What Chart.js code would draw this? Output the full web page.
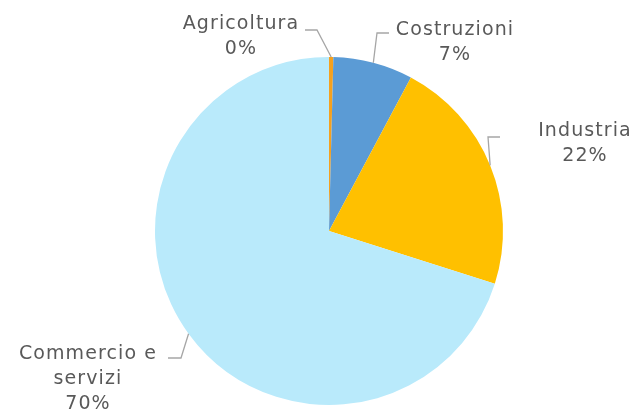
<!DOCTYPE html>
<html>
<head>
<meta charset="utf-8">
<script src="https://cdn.jsdelivr.net/npm/chart.js@4"></script>
<style>
  body { margin: 0; background: #fff; }
</style>
</head>
<body>
<canvas id="pieChart" width="635" height="409"></canvas>
<script>
const categories = ["Agricoltura", "Costruzioni", "Industria", "Commercio e servizi"];
const values = [0.4, 7.4, 22.1, 70.1];
const labelLines = [["Agricoltura"], ["Costruzioni"], ["Industria"], ["Commercio e", "servizi"]];
const colors = ["#F5A11E", "#5B9BD5", "#FFC000", "#B9EAFB"];

// where each label block sits (text centre x, first baseline y) and the elbow of its leader line
const labelPos = [
    { x: 241, y: 29, elbowX: 317, elbowY: 30, joinX: 305 },
    { x: 455, y: 35, elbowX: 377, elbowY: 33, joinX: 389 },
    { x: 585, y: 136, elbowX: 488, elbowY: 137, joinX: 500 },
    { x: 88, y: 359, elbowX: 181, elbowY: 358, joinX: 168 }
];

const pieLabels = {
    id: "pieLabels",
    afterDatasetsDraw(chart) {
        const ctx = chart.ctx;
        const meta = chart.getDatasetMeta(0);
        const total = values.reduce((a, b) => a + b, 0);
        ctx.save();
        meta.data.forEach((arc, i) => {
            const p = labelPos[i];
            const mid = (arc.startAngle + arc.endAngle) / 2;
            const ex = arc.x + Math.cos(mid) * arc.outerRadius;
            const ey = arc.y + Math.sin(mid) * arc.outerRadius;

            ctx.strokeStyle = "#A6A6A6";
            ctx.lineWidth = 1.3;
            ctx.beginPath();
            ctx.moveTo(ex, ey);
            ctx.lineTo(p.elbowX, p.elbowY);
            ctx.lineTo(p.joinX, p.elbowY);
            ctx.stroke();

            ctx.fillStyle = "#595959";
            ctx.font = "19px 'DejaVu Sans'";
            ctx.letterSpacing = "1.1px";
            ctx.textAlign = "center";
            ctx.textBaseline = "alphabetic";
            const lines = [...labelLines[i], Math.round(values[i] / total * 100) + "%"];
            lines.forEach((t, k) => ctx.fillText(t, p.x, p.y + k * 25));
        });
        ctx.restore();
    }
};

new Chart(document.getElementById("pieChart"), {
    type: "pie",
    data: {
        labels: categories,
        datasets: [{
            data: values,
            backgroundColor: colors,
            borderWidth: 0
        }]
    },
    options: {
        responsive: false,
        animation: false,
        layout: { padding: { top: 57, bottom: 4, left: 155, right: 132 } },
        plugins: {
            legend: { display: false },
            tooltip: { enabled: false }
        }
    },
    plugins: [pieLabels]
});
</script>
</body>
</html>
